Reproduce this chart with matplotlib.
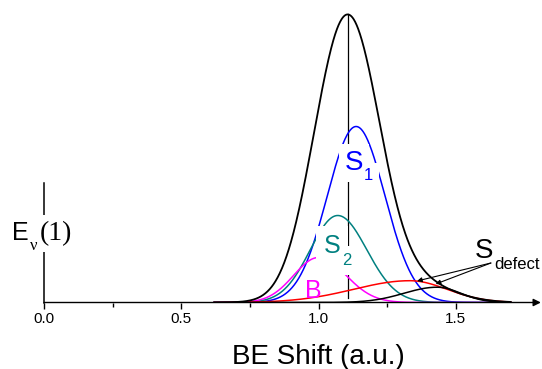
import numpy as np
import matplotlib
matplotlib.use("Agg")
import matplotlib.pyplot as plt

# ---- data (peak parameters; heights in pixel-like units) ----
peak_names   = ["S1", "S2", "B", "Sdefect_a", "Sdefect_b"]
peak_centers = [1.137, 1.070, 1.000, 1.333, 1.432]
peak_heights = [176.0, 87.0, 45.0, 21.8, 15.3]
peak_wleft   = [0.105, 0.100, 0.090, 0.205, 0.120]
peak_wright  = [0.105, 0.106, 0.100, 0.135, 0.086]
peak_colors  = ["#0000ff", "#008080", "#ff00ff", "#ff0000", "#000000"]
in_total     = [True, True, True, True, False]
x_range      = (0.62, 1.70)

tick_major = [0.0, 0.5, 1.0, 1.5]
tick_minor = [0.25, 0.75, 1.25]
tick_labels = ["0.0", "0.5", "1.0", "1.5"]

plt.rcParams['font.family'] = ['Liberation Sans', 'DejaVu Sans']

def split_gauss(x, c, h, wl, wr):
    w = np.where(x < c, wl, wr)
    return h * np.exp(-(x - c) ** 2 / (2 * w ** 2))

W, H = 542, 369
fig = plt.figure(figsize=(W / 100, H / 100), dpi=100)
x0_px, base_px, scale = 44.0, 302.5, 274.5
xmax = 1.815
ax = fig.add_axes([x0_px / W, (H - base_px) / H, xmax * scale / W, 300 / H])
ax.set_xlim(0, xmax)
ax.set_ylim(0, 300)

x = np.linspace(x_range[0], x_range[1], 800)
total = np.zeros_like(x)
curves = []
for c, h, wl, wr, col, inc in zip(peak_centers, peak_heights, peak_wleft,
                                   peak_wright, peak_colors, in_total):
    y = split_gauss(x, c, h, wl, wr)
    curves.append((y, col))
    if inc:
        total += y

ax.plot(x, total, color="black", lw=1.3, zorder=3)
for y, col in curves:
    ax.plot(x, y, color=col, lw=1.1, zorder=2)

# vertical line at the maximum of the total
ipk = np.argmax(total)
ax.plot([x[ipk], x[ipk]], [5, total[ipk]], color="black", lw=0.9, zorder=1)

# axes styling
for s in ["top", "right", "left", "bottom"]:
    ax.spines[s].set_visible(False)
ax.annotate("", xy=(xmax - 0.005, 0), xytext=(0, 0), xycoords="data",
            arrowprops=dict(arrowstyle="-|>", lw=1.0, color="black",
                            mutation_scale=11, shrinkA=0, shrinkB=0),
            annotation_clip=False, zorder=4)
ax.plot([0, 0], [0, 119.5], color="black", lw=1.1, zorder=1, clip_on=False)
ax.set_yticks([])
ax.set_xticks(tick_major)
ax.set_xticklabels(tick_labels, fontsize=11)
ax.set_xticks(tick_minor, minor=True)
ax.tick_params(axis="x", which="major", direction="out", length=4, width=1.0, pad=3)
ax.tick_params(axis="x", which="minor", direction="out", length=3, width=1.0)
ax.patch.set_alpha(0)

# labels
def lab(x, y, s, size, color="black", family=None, bg=False, pad=4):
    kw = dict(fontsize=size, ha="left", va="baseline", clip_on=False)
    if family:
        kw["family"] = family
    if bg:
        ax.text(x, y, s, color=(0, 0, 0, 0), zorder=5,
                bbox=dict(fc="white", ec="none", pad=pad), **kw)
    ax.text(x, y, s, color=color, zorder=6, **kw)

blue, teal, mag = peak_colors[0], peak_colors[1], peak_colors[2]
serif = ["Liberation Serif", "DejaVu Serif"]
lab(1.0965, 132.5, "S", 20, blue, bg=True)
lab(1.166, 122.5, "1", 12, blue, bg=True)
lab(1.020, 49.5, "S", 18, teal, bg=True, pad=5.5)
lab(1.0856, 37.5, "2", 12, teal, bg=True, pad=5)
lab(0.951, 4.5, "B", 18, mag)
lab(1.570, 44.5, "S", 20, "black")
lab(1.639, 33.5, "defect", 12, "black")
lab(-0.1166, 62.5, "E", 18, bg=True)
lab(-0.050, 52.0, "ν", 12, family=serif, bg=True)
lab(-0.0146, 62.5, "(1)", 20, family=serif, bg=True)

# arrows for S_defect
src = (1.628, 39.5)
for tgt in [(1.359, 21.5), (1.427, 18.5)]:
    ax.annotate("", xy=tgt, xytext=src,
                arrowprops=dict(arrowstyle="-|>", lw=0.8, color="black",
                                mutation_scale=7, shrinkA=0, shrinkB=0),
                zorder=7)

fig.text(232 / W, 1 - 364 / H, "BE Shift (a.u.)", fontsize=20,
         ha="left", va="baseline")

fig.savefig("out.png", dpi=100)
